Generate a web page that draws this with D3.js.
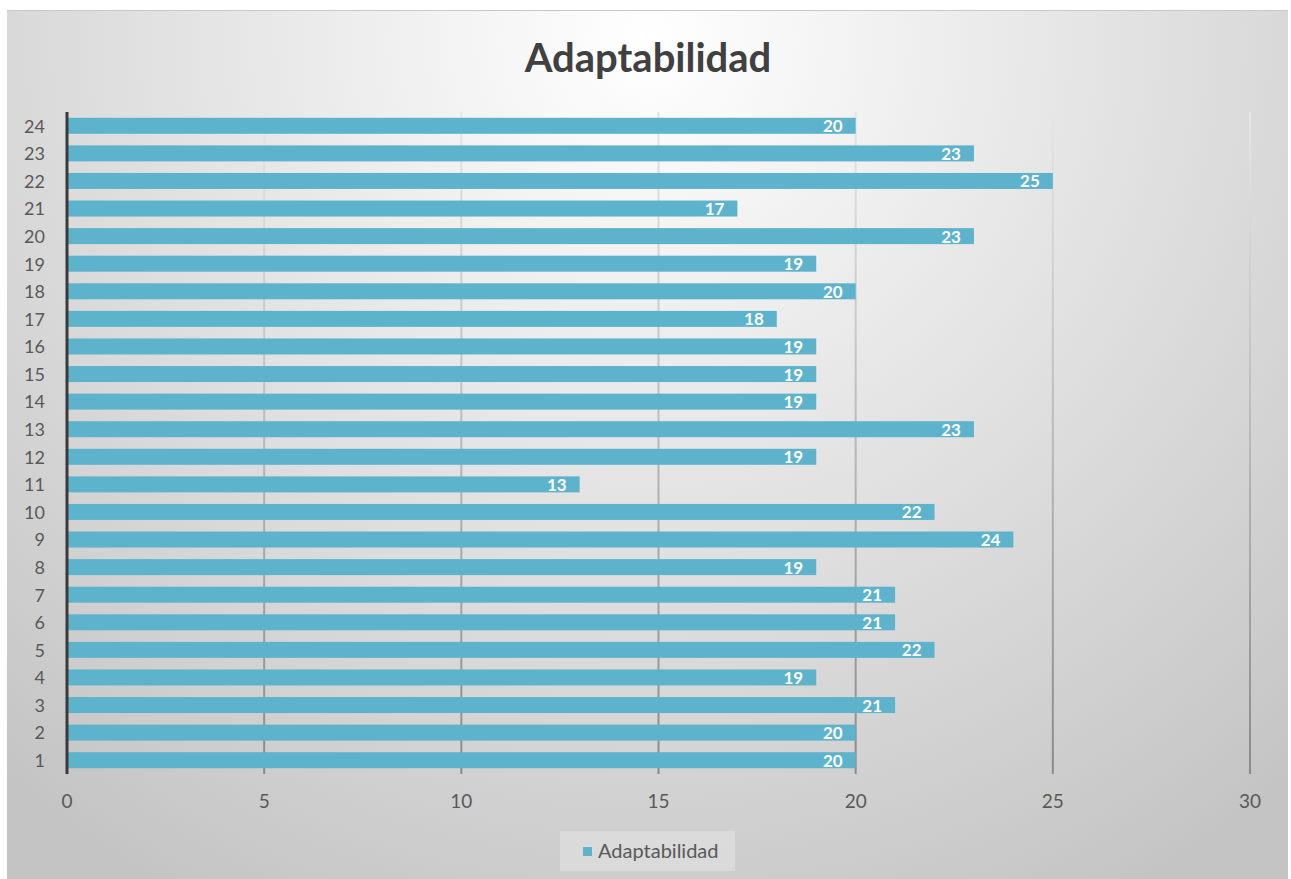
<!DOCTYPE html>
<html>
<head>
<meta charset="utf-8">
<script src="https://cdn.jsdelivr.net/npm/d3@7"></script>
<style>
  body { margin: 0; background: #fff; }
  svg { display: block; }
</style>
</head>
<body>
<svg id="chart" width="1291" height="879"></svg>
<script>
// datos
var categories = ['1','2','3','4','5','6','7','8','9','10','11','12','13','14','15','16','17','18','19','20','21','22','23','24'];
var values = [20, 20, 21, 19, 22, 21, 21, 19, 24, 22, 13, 19, 23, 19, 19, 19, 18, 20, 19, 23, 17, 25, 23, 20];
var xTicks = [0, 5, 10, 15, 20, 25, 30];
var seriesName = 'Adaptabilidad';
var titleText = 'Adaptabilidad';

var svg = d3.select('#chart');
var font = 'Lato, "Open Sans", sans-serif';

var defs = svg.append('defs');
var bg = defs.append('radialGradient')
    .attr('id', 'bg')
    .attr('gradientUnits', 'userSpaceOnUse')
    .attr('cx', 648).attr('cy', 40)
    .attr('r', 980);
bg.append('stop').attr('offset', '0%').attr('stop-color', '#ffffff');
bg.append('stop').attr('offset', '100%').attr('stop-color', '#c4c4c4');

var gridGrad = defs.append('linearGradient')
    .attr('id', 'grid')
    .attr('gradientUnits', 'userSpaceOnUse')
    .attr('x1', 0).attr('y1', 112).attr('x2', 0).attr('y2', 774);
gridGrad.append('stop').attr('offset', '0%').attr('stop-color', '#e6e6e6');
gridGrad.append('stop').attr('offset', '100%').attr('stop-color', '#8a8a8a');

// fondo
svg.append('rect')
    .attr('x', 7).attr('y', 10)
    .attr('width', 1281).attr('height', 869)
    .attr('fill', 'url(#bg)');
svg.append('line')
    .attr('x1', 7).attr('x2', 1288).attr('y1', 10.5).attr('y2', 10.5)
    .attr('stroke', '#c8c8c8');

var x = d3.scaleLinear().domain([0, 30]).range([67, 1250]);
var y = d3.scaleBand().domain(categories.slice().reverse()).range([112, 774]).paddingInner(0.42).paddingOuter(0.21);

// titulo
svg.append('text')
    .attr('x', 648).attr('y', 72)
    .attr('text-anchor', 'middle')
    .attr('font-family', font)
    .attr('font-weight', 'bold')
    .attr('font-size', 40)
    .attr('fill', '#404040')
    .text(titleText);

// lineas de cuadricula
svg.append('g')
    .selectAll('line')
    .data(xTicks.slice(1))
    .enter()
    .append('line')
    .attr('x1', function(d) { return x(d); })
    .attr('x2', function(d) { return x(d); })
    .attr('y1', 112)
    .attr('y2', 774)
    .attr('stroke', 'url(#grid)')
    .attr('stroke-width', 2);

// barras
svg.append('g')
    .selectAll('rect')
    .data(values)
    .enter()
    .append('rect')
    .attr('x', x(0))
    .attr('y', function(d, i) { return y(categories[i]); })
    .attr('width', function(d) { return x(d) - x(0); })
    .attr('height', y.bandwidth())
    .attr('fill', '#5db3cb');

// etiquetas de datos
svg.append('g')
    .selectAll('text')
    .data(values)
    .enter()
    .append('text')
    .attr('x', function(d) { return x(d) - 13; })
    .attr('y', function(d, i) { return y(categories[i]) + y.bandwidth() / 2; })
    .attr('dy', '0.38em')
    .attr('text-anchor', 'end')
    .attr('font-family', font)
    .attr('font-weight', 'bold')
    .attr('font-size', 17)
    .attr('fill', '#ffffff')
    .text(function(d) { return d; });

// eje Y
svg.append('line')
    .attr('x1', x(0)).attr('x2', x(0))
    .attr('y1', 112).attr('y2', 774)
    .attr('stroke', '#3a3a3a')
    .attr('stroke-width', 3);

svg.append('g')
    .selectAll('text')
    .data(categories)
    .enter()
    .append('text')
    .attr('x', 45)
    .attr('y', function(d) { return y(d) + y.bandwidth() / 2; })
    .attr('dy', '0.38em')
    .attr('text-anchor', 'end')
    .attr('font-family', font)
    .attr('font-size', 18)
    .attr('fill', '#595959')
    .text(function(d) { return d; });

// eje X
svg.append('g')
    .selectAll('text')
    .data(xTicks)
    .enter()
    .append('text')
    .attr('x', function(d) { return x(d); })
    .attr('y', 808)
    .attr('text-anchor', 'middle')
    .attr('font-family', font)
    .attr('font-size', 19)
    .attr('fill', '#595959')
    .text(function(d) { return d; });

// leyenda
var legend = svg.append('g');
legend.append('rect')
    .attr('x', 560).attr('y', 831)
    .attr('width', 175).attr('height', 40)
    .attr('fill', '#e2e2e2')
    .attr('fill-opacity', 0.6);
legend.append('rect')
    .attr('x', 583).attr('y', 847)
    .attr('width', 9).attr('height', 9)
    .attr('fill', '#5db3cb');
legend.append('text')
    .attr('x', 598).attr('y', 858)
    .attr('font-family', font)
    .attr('font-size', 20)
    .attr('fill', '#595959')
    .text(seriesName);
</script>
</body>
</html>
